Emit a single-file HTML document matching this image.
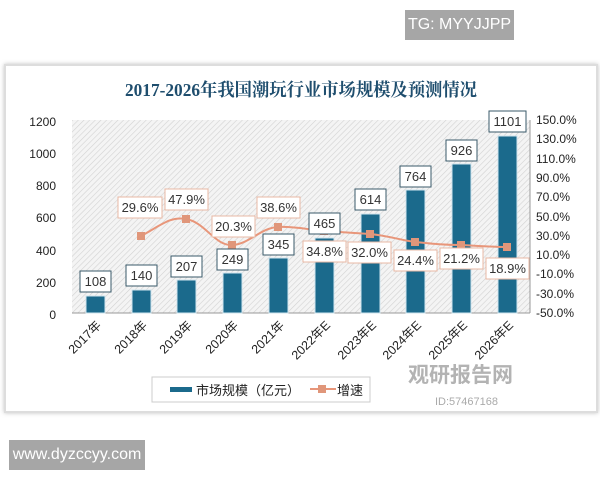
<!DOCTYPE html>
<html><head><meta charset="utf-8"><style>
body{margin:0;width:600px;height:480px;background:#fff;overflow:hidden;font-family:"Liberation Sans","Noto Sans CJK SC",sans-serif}
.tag{position:absolute;background:#a6a6a6;color:#fff;font-size:16px;line-height:30px;text-align:center}
</style></head><body>
<div class="tag" style="left:405px;top:10px;width:109px;height:30px;">TG: MYYJJPP</div>
<div class="tag" style="left:9px;top:440px;width:136px;height:30px;">www.dyzccyy.com</div>
<svg width="600" height="480" style="position:absolute;left:0;top:0">
<defs>
<pattern id="h" width="4" height="4" patternUnits="userSpaceOnUse" patternTransform="rotate(45)">
<rect width="4" height="4" fill="#f4f4f4"/><line x1="0" y1="0" x2="0" y2="4" stroke="#d2d2d2" stroke-width="1.2"/>
</pattern>
<filter id="s" x="-10%" y="-10%" width="120%" height="120%"><feDropShadow dx="0" dy="0" stdDeviation="2" flood-color="#999" flood-opacity="0.6"/></filter>
</defs>
<rect x="5" y="65" width="592" height="347" fill="#fff" stroke="#ddd" stroke-width="2" filter="url(#s)"/>
<text x="301" y="96" text-anchor="middle" font-family="'Liberation Serif','Noto Serif CJK SC',serif" font-weight="bold" font-size="18" fill="#1f4e6e" textLength="352" lengthAdjust="spacingAndGlyphs">2017-2026年我国潮玩行业市场规模及预测情况</text>
<rect x="72" y="120" width="458" height="193" fill="url(#h)"/>
<line x1="72" y1="313" x2="530" y2="313" stroke="#999"/>
<line x1="530" y1="120" x2="530" y2="313" stroke="#999"/>
<g font-size="12" fill="#222" text-anchor="end">
<text x="56" y="126">1200</text><text x="56" y="158">1000</text><text x="56" y="190">800</text><text x="56" y="222">600</text><text x="56" y="255">400</text><text x="56" y="287">200</text><text x="56" y="319">0</text>
</g>
<g font-size="12" fill="#222">
<text x="536" y="124">150.0%</text><text x="536" y="143">130.0%</text><text x="536" y="163">110.0%</text><text x="536" y="182">90.0%</text><text x="536" y="201">70.0%</text><text x="536" y="221">50.0%</text><text x="536" y="240">30.0%</text><text x="536" y="259">10.0%</text><text x="536" y="278">-10.0%</text><text x="536" y="298">-30.0%</text><text x="536" y="317">-50.0%</text>
</g>
<g fill="#1b6a8c" stroke="#cfe4ee" stroke-width="1">
<rect x="86" y="296" width="19" height="17"/>
<rect x="132" y="290" width="19" height="23"/>
<rect x="177" y="280" width="19" height="33"/>
<rect x="223" y="273" width="19" height="40"/>
<rect x="269" y="258" width="19" height="55"/>
<rect x="315" y="238" width="19" height="75"/>
<rect x="361" y="214" width="19" height="99"/>
<rect x="406" y="190" width="19" height="123"/>
<rect x="452" y="164" width="19" height="149"/>
<rect x="498" y="136" width="19" height="177"/>
</g>
<path d="M141,236 C160,226 170,216 186,219 C205,222 215,246 232,245 C250,244 260,228 278,227 C295,226 310,230 324,231 C340,232 355,233 370,234 C390,236 400,240 415,242 C435,244 445,245 461,245 C480,246 495,247 507,247" fill="none" stroke="#e8967a" stroke-width="2"/>
<g fill="#e0967a">
<rect x="137" y="232" width="8" height="8"/><rect x="182" y="215" width="8" height="8"/><rect x="228" y="241" width="8" height="8"/><rect x="274" y="223" width="8" height="8"/><rect x="320" y="227" width="8" height="8"/><rect x="366" y="230" width="8" height="8"/><rect x="411" y="238" width="8" height="8"/><rect x="457" y="241" width="8" height="8"/><rect x="503" y="243" width="8" height="8"/>
</g>
<g font-size="13" fill="#333" text-anchor="middle">
<g fill="#fff" stroke="#3a5a6a" stroke-width="1">
<rect x="80" y="271" width="31" height="21"/><rect x="126" y="265" width="31" height="21"/><rect x="171" y="256" width="31" height="21"/><rect x="217" y="249" width="31" height="21"/><rect x="263" y="234" width="31" height="21"/><rect x="309" y="213" width="31" height="21"/><rect x="355" y="189" width="31" height="21"/><rect x="400" y="166" width="31" height="21"/><rect x="446" y="140" width="31" height="21"/><rect x="489" y="111" width="37" height="21"/>
</g>
<g fill="#fff" stroke="#e8b8a4" stroke-width="1">
<rect x="118" y="197" width="44" height="21"/><rect x="165" y="189" width="43" height="21"/><rect x="212" y="216" width="43" height="21"/><rect x="257" y="197" width="43" height="21"/><rect x="303" y="241" width="43" height="21"/><rect x="348" y="242" width="43" height="21"/><rect x="394" y="250" width="43" height="21"/><rect x="440" y="248" width="43" height="21"/><rect x="486" y="258" width="43" height="21"/>
</g>
<text x="95.5" y="286">108</text><text x="141.5" y="280">140</text><text x="186.5" y="271">207</text><text x="232.5" y="264">249</text><text x="278.5" y="249">345</text><text x="324.5" y="228">465</text><text x="370.5" y="204">614</text><text x="415.5" y="181">764</text><text x="461.5" y="155">926</text><text x="507.5" y="126">1101</text>
<text x="140" y="212">29.6%</text><text x="186.5" y="204">47.9%</text><text x="233.5" y="231">20.3%</text><text x="278.5" y="212">38.6%</text><text x="324.5" y="256">34.8%</text><text x="369.5" y="257">32.0%</text><text x="415.5" y="265">24.4%</text><text x="461.5" y="263">21.2%</text><text x="507.5" y="273">18.9%</text>
</g>
<g font-size="12.5" fill="#222" text-anchor="end">
<text transform="translate(102,326) rotate(-45)">2017年</text>
<text transform="translate(148,326) rotate(-45)">2018年</text>
<text transform="translate(193,326) rotate(-45)">2019年</text>
<text transform="translate(239,326) rotate(-45)">2020年</text>
<text transform="translate(285,326) rotate(-45)">2021年</text>
<text transform="translate(331,326) rotate(-45)">2022年E</text>
<text transform="translate(377,326) rotate(-45)">2023年E</text>
<text transform="translate(422,326) rotate(-45)">2024年E</text>
<text transform="translate(468,326) rotate(-45)">2025年E</text>
<text transform="translate(514,326) rotate(-45)">2026年E</text>
</g>
<rect x="152" y="377" width="218" height="25" fill="#fff" stroke="#ccc"/>
<rect x="170" y="387" width="22" height="5" fill="#1b6a8c"/>
<text x="196" y="395" font-size="13" fill="#222">市场规模（亿元）</text>
<line x1="310" y1="389" x2="336" y2="389" stroke="#e8967a" stroke-width="2"/>
<rect x="318" y="385" width="8" height="8" fill="#e0967a"/>
<text x="337" y="395" font-size="13" fill="#222">增速</text>
<text x="408" y="382" font-size="21" font-weight="bold" fill="#9a9a9a" opacity="0.75">观研报告网</text>
<text x="435" y="405" font-size="11" fill="#aaa">ID:57467168</text>
</svg>
</body></html>
